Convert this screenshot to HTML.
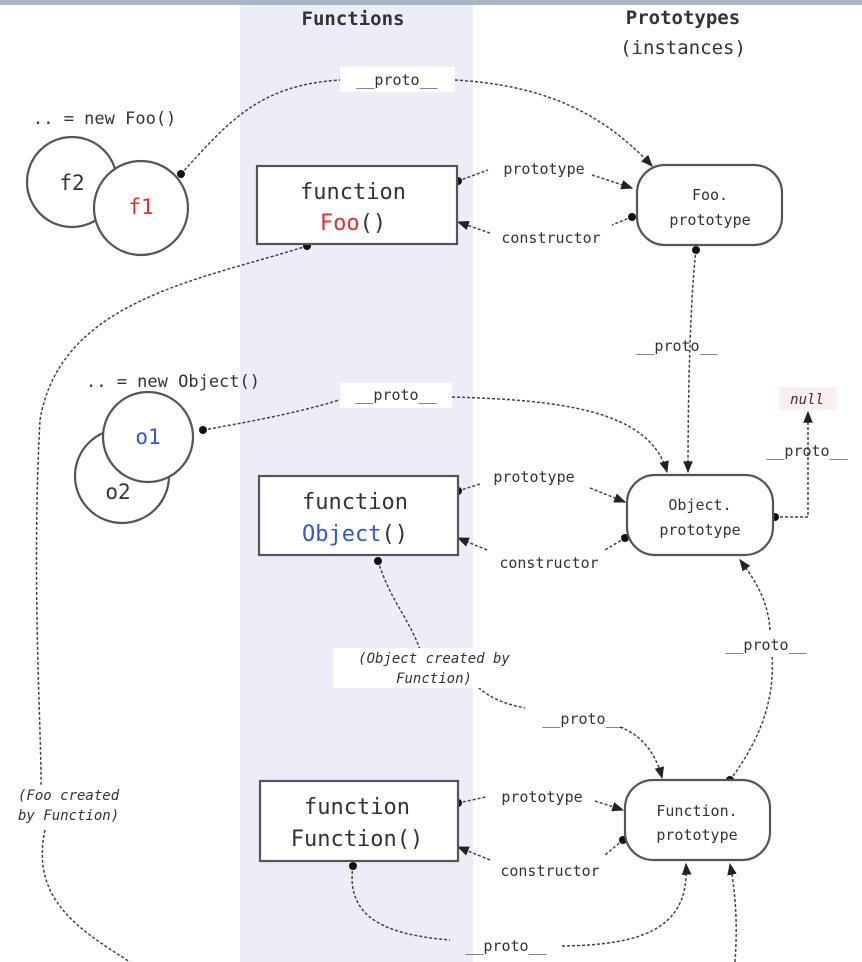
<!DOCTYPE html>
<html><head><meta charset="utf-8"><style>
body{margin:0;background:#fff}
svg{display:block}
text{font-family:"DejaVu Sans Mono","Liberation Mono",monospace;fill:#333}
.b{font-size:22px}
.m{font-size:16px}
.s{font-size:15px}
.i{font-size:14px;font-style:italic}
.d{fill:none;stroke:#444;stroke-width:1.5;stroke-dasharray:3,2}
.n{fill:#fff;stroke:#555;stroke-width:2.2}
</style></head><body>
<svg width="862" height="962" viewBox="0 0 862 962" xmlns="http://www.w3.org/2000/svg">
<defs><marker id="a" viewBox="0 0 10 10" refX="9" refY="5" markerWidth="8" markerHeight="8" orient="auto"><path d="M0,1 L10,5 L0,9 z" fill="#222"/></marker></defs>
<rect x="0" y="0" width="862" height="5" fill="#a9b5c8"/>
<rect x="240" y="5" width="233" height="957" fill="#ededf9"/>
<text x="353" y="25" class="m" text-anchor="middle" font-weight="bold" style="font-size:19px">Functions</text>
<text x="683" y="24" class="m" text-anchor="middle" font-weight="bold" style="font-size:19px">Prototypes</text>
<text x="683" y="54" class="m" text-anchor="middle" style="font-size:19px">(instances)</text>

<path class="d" d="M181,174 C230,120 260,85 340,80" />
<path class="d" d="M455,80 C540,85 600,110 652,166" marker-end="url(#a)"/>
<path class="d" d="M458,181 L488,170"/><path class="d" d="M592,175 L632,188" marker-end="url(#a)"/>
<path class="d" d="M632,217 L612,225"/><path class="d" d="M490,233 L458,222" marker-end="url(#a)"/>
<path class="d" d="M307,246 C200,280 60,300 40,420 C30,600 45,780 40,800"/>
<path class="d" d="M45,830 C30,900 80,930 130,962"/>
<path class="d" d="M696,250 C690,300 688,400 688,472" marker-end="url(#a)"/>
<path class="d" d="M203,430 C260,420 310,410 345,398"/>
<path class="d" d="M452,397 C560,400 650,410 667,472" marker-end="url(#a)"/>
<path class="d" d="M458,491 L480,484"/><path class="d" d="M590,488 L625,502" marker-end="url(#a)"/>
<path class="d" d="M625,538 L605,550"/><path class="d" d="M487,550 L458,538" marker-end="url(#a)"/>
<path class="d" d="M775,517 L808,517 L808,412" marker-end="url(#a)"/>
<path class="d" d="M378,561 C390,600 410,620 420,650"/>
<path class="d" d="M475,684 C490,700 510,705 525,708"/>
<path class="d" d="M620,727 C640,735 655,750 662,778" marker-end="url(#a)"/>
<path class="d" d="M730,780 C760,740 775,700 772,655"/>
<path class="d" d="M770,630 C768,600 755,580 740,560" marker-end="url(#a)"/>
<path class="d" d="M458,803 L486,797"/><path class="d" d="M595,801 L623,810" marker-end="url(#a)"/>
<path class="d" d="M623,840 L605,855"/><path class="d" d="M490,860 L458,847" marker-end="url(#a)"/>
<path class="d" d="M353,866 C345,920 390,935 450,940"/>
<path class="d" d="M562,946 C640,945 690,930 686,864" marker-end="url(#a)"/>
<path class="d" d="M735,962 C738,920 735,890 730,864" marker-end="url(#a)"/>

<g fill="#111">
<circle cx="181" cy="174" r="4"/><circle cx="458" cy="181" r="4"/><circle cx="632" cy="217" r="4"/>
<circle cx="307" cy="246" r="4"/><circle cx="696" cy="250" r="4"/><circle cx="203" cy="430" r="4"/>
<circle cx="458" cy="491" r="4"/><circle cx="625" cy="538" r="4"/><circle cx="775" cy="517" r="4"/>
<circle cx="378" cy="561" r="4"/><circle cx="730" cy="780" r="4"/><circle cx="458" cy="803" r="4"/>
<circle cx="623" cy="840" r="4"/><circle cx="353" cy="866" r="4"/>
</g>

<circle cx="72" cy="182" r="45" class="n"/>
<circle cx="141" cy="208" r="47" class="n"/>
<text x="72" y="190" class="b" text-anchor="middle" style="font-size:21px">f2</text>
<text x="141" y="214" class="b" text-anchor="middle" style="font-size:21px;fill:#d33">f1</text>
<circle cx="122" cy="476" r="47" class="n"/>
<circle cx="148" cy="437" r="45" class="n"/>
<text x="148" y="444" class="b" text-anchor="middle" style="font-size:21px;fill:#3355dd">o1</text>
<text x="118" y="499" class="b" text-anchor="middle" style="font-size:21px">o2</text>
<text x="33" y="124" class="m" style="font-size:17px">.. = new Foo()</text>
<text x="86" y="387" class="m" style="font-size:17px">.. = new Object()</text>

<rect x="257" y="166" width="200" height="78" class="n"/>
<text x="353" y="199" class="b" text-anchor="middle">function</text>
<text x="353" y="230" class="b" text-anchor="middle"><tspan fill="#d33">Foo</tspan>()</text>
<rect x="259" y="476" width="199" height="79" class="n"/>
<text x="355" y="509" class="b" text-anchor="middle">function</text>
<text x="355" y="541" class="b" text-anchor="middle"><tspan fill="#3355dd">Object</tspan>()</text>
<rect x="260" y="781" width="198" height="80" class="n"/>
<text x="357" y="814" class="b" text-anchor="middle">function</text>
<text x="357" y="846" class="b" text-anchor="middle">Function()</text>

<rect x="637" y="165" width="145" height="80" rx="28" class="n"/>
<text x="710" y="200" class="s" text-anchor="middle">Foo.</text>
<text x="710" y="225" class="s" text-anchor="middle">prototype</text>
<rect x="627" y="475" width="146" height="80" rx="28" class="n"/>
<text x="700" y="510" class="s" text-anchor="middle">Object.</text>
<text x="700" y="535" class="s" text-anchor="middle">prototype</text>
<rect x="625" y="780" width="145" height="80" rx="28" class="n"/>
<text x="697" y="816" class="s" text-anchor="middle">Function.</text>
<text x="697" y="840" class="s" text-anchor="middle">prototype</text>

<rect x="340" y="67" width="115" height="25" fill="#fff"/>
<text x="397" y="85" class="s" text-anchor="middle">__proto__</text>
<rect x="340" y="383" width="112" height="25" fill="#fff"/>
<text x="396" y="400" class="s" text-anchor="middle">__proto__</text>
<text x="544" y="174" class="s" text-anchor="middle">prototype</text>
<text x="551" y="243" class="s" text-anchor="middle">constructor</text>
<text x="677" y="351" class="s" text-anchor="middle">__proto__</text>
<rect x="779" y="387" width="58" height="23" fill="#fbeeee"/>
<text x="807" y="404" class="i" text-anchor="middle">null</text>
<text x="807" y="456" class="s" text-anchor="middle">__proto__</text>
<text x="534" y="482" class="s" text-anchor="middle">prototype</text>
<text x="549" y="568" class="s" text-anchor="middle">constructor</text>
<text x="766" y="650" class="s" text-anchor="middle">__proto__</text>
<rect x="333" y="648" width="160" height="40" fill="#fff"/>
<text x="434" y="663" class="i" text-anchor="middle">(Object created by</text>
<text x="434" y="683" class="i" text-anchor="middle">Function)</text>
<text x="583" y="724" class="s" text-anchor="middle">__proto__</text>
<rect x="14" y="785" width="140" height="44" fill="#fff"/>
<text x="18" y="800" class="i">(Foo created</text>
<text x="18" y="820" class="i">by Function)</text>
<text x="542" y="802" class="s" text-anchor="middle">prototype</text>
<text x="550" y="876" class="s" text-anchor="middle">constructor</text>
<text x="506" y="951" class="s" text-anchor="middle">__proto__</text>
</svg>
</body></html>
